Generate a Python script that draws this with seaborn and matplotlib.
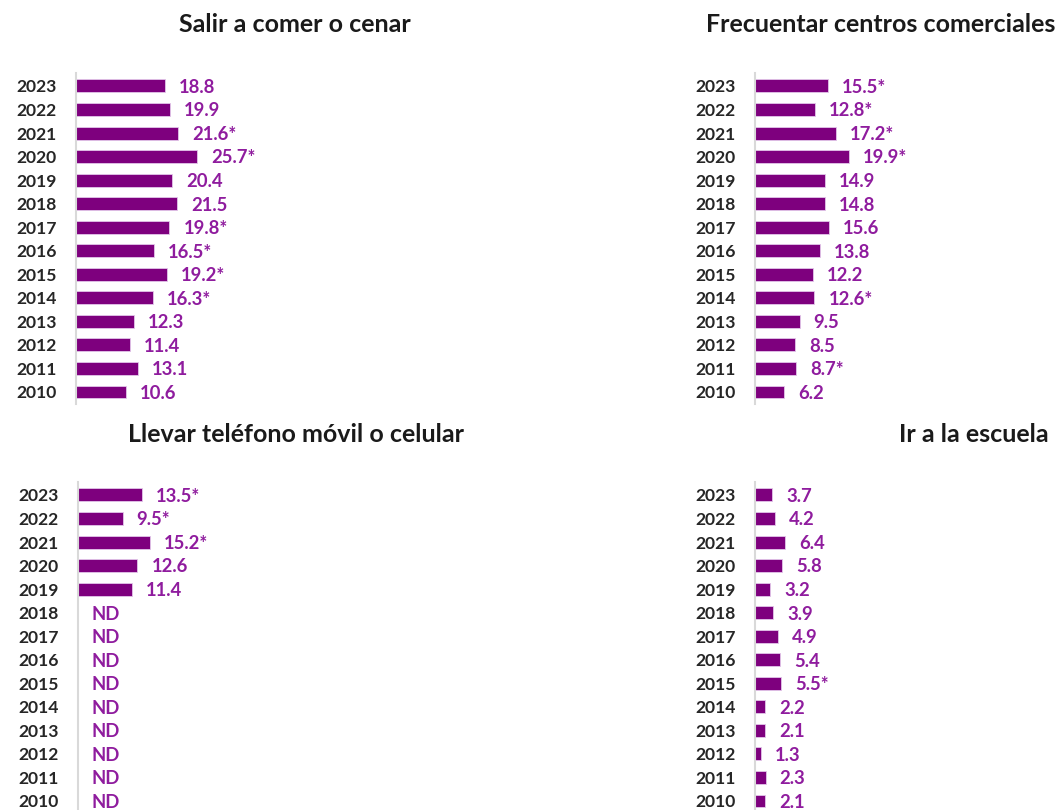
import matplotlib
matplotlib.use("Agg")
import matplotlib.pyplot as plt
import seaborn as sns
import numpy as np
import pandas as pd

# Años (de arriba hacia abajo)
anios = ["2023", "2022", "2021", "2020", "2019", "2018", "2017",
         "2016", "2015", "2014", "2013", "2012", "2011", "2010"]

# Porcentajes por actividad; 1 = diferencia significativa (se marca con *)
comer = [18.8, 19.9, 21.6, 25.7, 20.4, 21.5, 19.8, 16.5, 19.2, 16.3, 12.3, 11.4, 13.1, 10.6]
comer_sig = [0, 0, 1, 1, 0, 0, 1, 1, 1, 1, 0, 0, 0, 0]

centros = [15.5, 12.8, 17.2, 19.9, 14.9, 14.8, 15.6, 13.8, 12.2, 12.6, 9.5, 8.5, 8.7, 6.2]
centros_sig = [1, 1, 1, 1, 0, 0, 0, 0, 0, 1, 0, 0, 1, 0]

celular = [13.5, 9.5, 15.2, 12.6, 11.4, None, None, None, None, None, None, None, None, None]
celular_sig = [1, 1, 1, 0, 0, 0, 0, 0, 0, 0, 0, 0, 0, 0]

escuela = [3.7, 4.2, 6.4, 5.8, 3.2, 3.9, 4.9, 5.4, 5.5, 2.2, 2.1, 1.3, 2.3, 2.1]
escuela_sig = [0, 0, 0, 0, 0, 0, 0, 0, 1, 0, 0, 0, 0, 0]

titulos = ["Salir a comer o cenar", "Frecuentar centros comerciales",
           "Llevar teléfono móvil o celular", "Ir a la escuela"]

COLOR_BARRA = "#7E007E"
COLOR_ETIQUETA = "#8F1C9E"
COLOR_ANIO = "#262626"

sns.set_style("white")
plt.rcParams["font.family"] = ["Lato", "DejaVu Sans"]

W, H = 1058, 810
fig = plt.figure(figsize=(W / 100, H / 100), dpi=100)

# (x del eje, y superior, y inferior, x del título, alineación, línea base del título) en píxeles
paneles = [
    (76, 73, 404, 295, "center", 32),
    (755, 73, 404, 1055, "right", 32),
    (78, 482, 813, 296, "center", 442),
    (755, 482, 813, 974, "center", 442),
]
series = [(comer, comer_sig), (centros, centros_sig),
          (celular, celular_sig), (escuela, escuela_sig)]

XMAX = 40  # unidades de eje visibles
PX_POR_UNIDAD = 4.72

for (x0, top, bot, tx, tha, tby), (vals, sig), titulo in zip(paneles, series, titulos):
    ancho = XMAX * PX_POR_UNIDAD
    ax = fig.add_axes([x0 / W, 1 - bot / H, ancho / W, (bot - top) / H])
    df = pd.DataFrame({"anio": anios,
                       "valor": [np.nan if v is None else v for v in vals]})
    sns.barplot(data=df, x="valor", y="anio", order=anios, orient="h",
                color=COLOR_BARRA, saturation=1, width=0.55,
                edgecolor="#E3C6EA", linewidth=0.6, ax=ax)
    ax.set_xlim(0, XMAX)
    ax.set_ylim(13.51, -0.55)
    ax.set_xlabel("")
    ax.set_ylabel("")
    ax.set_xticks([])
    ax.tick_params(axis="y", length=0, pad=14)
    for lbl in ax.get_yticklabels():
        lbl.set_fontweight("bold")
        lbl.set_fontsize(12.6)
        lbl.set_color(COLOR_ANIO)
    for s in ("top", "right", "bottom"):
        ax.spines[s].set_visible(False)
    ax.spines["left"].set_color("#D9D9D9")
    ax.spines["left"].set_linewidth(1.5)
    ax.set_facecolor("none")

    for i, (v, s) in enumerate(zip(vals, sig)):
        if v is None:
            texto, xv = "ND", 0
        else:
            texto, xv = f"{v:.1f}" + ("*" if s else ""), v
        ax.annotate(texto, xy=(xv, i), xytext=(10, -1), textcoords="offset points",
                    ha="left", va="center", fontsize=13.3, fontweight="bold",
                    color=COLOR_ETIQUETA, annotation_clip=False)

    fig.text(tx / W, 1 - tby / H, titulo, ha=tha, va="baseline",
             fontsize=18, fontweight="bold", color="#1A1A1A")

fig.savefig("out.png", dpi=100)
